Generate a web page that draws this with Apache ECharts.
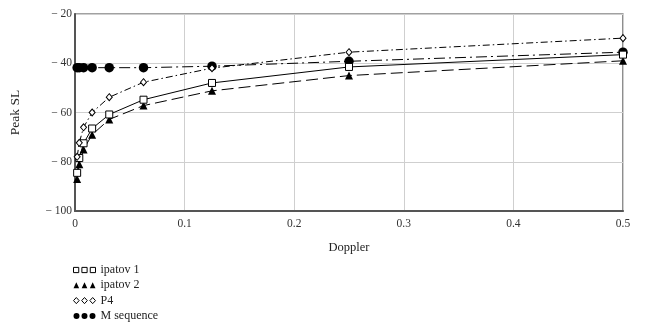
<!DOCTYPE html>
<html>
<head>
<meta charset="utf-8">
<script src="https://cdn.jsdelivr.net/npm/echarts@6/dist/echarts.min.js"></script>
<style>
  html, body { margin: 0; padding: 0; background: #fff; }
  #chart { width: 647px; height: 329px; }
</style>
</head>
<body>
<div id="chart"></div>
<script>
// Doppler shifts (powers of two down to 1/512)
const doppler = [0.001953125, 0.00390625, 0.0078125, 0.015625, 0.03125, 0.0625, 0.125, 0.25, 0.5];

// Peak sidelobe level for each code family
const ipatov1 = [-84.5, -78.5, -72.5, -66.5, -60.8, -54.8, -48.0, -41.5, -36.5];
const ipatov2 = [-87.0, -81.0, -75.0, -69.0, -62.8, -57.2, -51.2, -45.0, -39.0];
const p4      = [-78.0, -72.3, -66.0, -60.0, -53.8, -47.7, -42.0, -35.5, -29.8];
const mseq    = [-41.8, -41.8, -41.8, -41.8, -41.8, -41.8, -41.2, -39.2, -35.5];

const seriesNames = ['ipatov 1', 'ipatov 2', 'P4', 'M sequence'];
const xTicks = [0, 0.1, 0.2, 0.3, 0.4, 0.5];
const yTicks = [-100, -80, -60, -40, -20];

const FONT = '"Liberation Serif", "DejaVu Serif", serif';

function pairs(ys) { return doppler.map((x, i) => [x, ys[i]]); }

// three-marker legend glyphs
const iconSquares = 'path://M0,1h5v5h-5z M8,1h5v5h-5z M16,1h5v5h-5z';
const iconTriangles = 'path://M0,6L2.75,0L5.5,6z M8,6L10.75,0L13.5,6z M16,6L18.75,0L21.5,6z';
const iconDiamonds = 'path://M0,3L2.75,0L5.5,3L2.75,6z M8,3L10.75,0L13.5,3L10.75,6z M16,3L18.75,0L21.5,3L18.75,6z';
const iconCircles = 'path://M0,3a3,3 0 1,0 6,0a3,3 0 1,0 -6,0z M8,3a3,3 0 1,0 6,0a3,3 0 1,0 -6,0z M16,3a3,3 0 1,0 6,0a3,3 0 1,0 -6,0z';

const chart = echarts.init(document.getElementById('chart'), null, { renderer: 'canvas' });

const option = {
  animation: false,
  backgroundColor: '#fff',
  textStyle: { fontFamily: FONT, color: '#222' },
  grid: {
    left: 73, right: 24, top: 14, bottom: 118,
    show: true, borderColor: '#444', borderWidth: 1.2, backgroundColor: 'transparent'
  },
  legend: {
    orient: 'vertical',
    left: 68, top: 259,
    itemWidth: 22, itemHeight: 7, itemGap: 3.3,
    textStyle: { fontFamily: FONT, fontSize: 12, color: '#222' },
    data: [
      { name: seriesNames[0], icon: iconSquares, itemStyle: { color: '#fff', borderColor: '#000', borderWidth: 1 } },
      { name: seriesNames[1], icon: iconTriangles, itemStyle: { color: '#000', borderColor: '#000', borderWidth: 0 } },
      { name: seriesNames[2], icon: iconDiamonds, itemStyle: { color: '#fff', borderColor: '#000', borderWidth: 1 } },
      { name: seriesNames[3], icon: iconCircles, itemStyle: { color: '#000', borderColor: '#000', borderWidth: 0 } }
    ]
  },
  xAxis: {
    type: 'value',
    min: xTicks[0], max: xTicks[xTicks.length - 1], interval: 0.1,
    name: 'Doppler', nameLocation: 'middle', nameGap: 30,
    nameTextStyle: { fontFamily: FONT, fontSize: 12.5, color: '#222' },
    axisLine: { show: true, lineStyle: { color: '#555', width: 2 } },
    axisTick: { show: false },
    axisLabel: { fontFamily: FONT, fontSize: 11.5, color: '#333', margin: 7,
      formatter: v => String(+v.toFixed(1)) },
    splitLine: { show: true, lineStyle: { color: '#cfcfcf', width: 1 } }
  },
  yAxis: {
    type: 'value',
    min: yTicks[0], max: yTicks[yTicks.length - 1], interval: 20,
    name: 'Peak SL', nameLocation: 'middle', nameGap: 53, nameRotate: 90,
    nameTextStyle: { fontFamily: FONT, fontSize: 13.5, color: '#222' },
    axisLine: { show: true, lineStyle: { color: '#555', width: 2 } },
    axisTick: { show: false },
    axisLabel: { fontFamily: FONT, fontSize: 11.5, color: '#333', margin: 3,
      formatter: v => v < 0 ? '\u2212 ' + Math.abs(v) : String(v) },
    splitLine: { show: true, lineStyle: { color: '#cfcfcf', width: 1 } }
  },
  series: [
    {
      name: seriesNames[0], type: 'line', data: pairs(ipatov1),
      symbol: 'rect', symbolSize: 7,
      itemStyle: { color: '#fff', borderColor: '#000', borderWidth: 1 },
      lineStyle: { color: '#000', width: 1, type: 'solid' }, z: 4
    },
    {
      name: seriesNames[1], type: 'line', data: pairs(ipatov2),
      symbol: 'triangle', symbolSize: 8,
      itemStyle: { color: '#000', borderColor: '#000', borderWidth: 0 },
      lineStyle: { color: '#000', width: 1, type: [12, 5] }, z: 3
    },
    {
      name: seriesNames[2], type: 'line', data: pairs(p4),
      symbol: 'diamond', symbolSize: [6, 7],
      itemStyle: { color: '#fff', borderColor: '#000', borderWidth: 1 },
      lineStyle: { color: '#000', width: 1, type: [7, 3, 1.5, 3] }, z: 5
    },
    {
      name: seriesNames[3], type: 'line', data: pairs(mseq),
      symbol: 'circle', symbolSize: 9.5,
      itemStyle: { color: '#000', borderColor: '#000', borderWidth: 0 },
      lineStyle: { color: '#000', width: 1, type: [11, 4, 2, 4] }, z: 2
    }
  ]
};

chart.setOption(option);
</script>
</body>
</html>
